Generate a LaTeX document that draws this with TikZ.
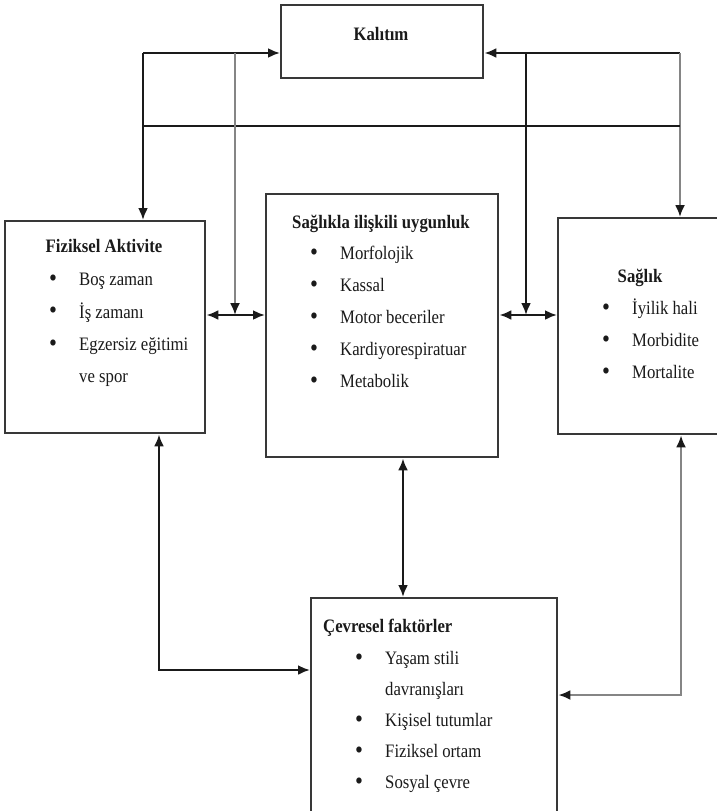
\documentclass[tikz,border=0pt]{standalone}
\usepackage{fontspec}
\setmainfont{Liberation Serif}[FakeStretch=0.88]
\usetikzlibrary{arrows.meta}
\definecolor{boxc}{HTML}{383838}
\definecolor{linec}{HTML}{1A1A1A}
\definecolor{grayc}{HTML}{858585}
\definecolor{textc}{HTML}{1A1A1A}
\newcommand{\itm}[1]{\makebox[30pt][l]{\raisebox{-0.6pt}{\scalebox{1.35}{\textbullet}}}#1}
\begin{document}
\begin{tikzpicture}[x=1pt,y=-1pt,
  box/.style={draw=boxc, line width=2.4pt, inner sep=0pt, anchor=north west, fill=white},
  ln/.style={line width=2.3pt, draw=linec},
  gl/.style={line width=2.1pt, draw=grayc},
  tipe/.style={-{Latex[length=12pt,width=10pt,color=linec]}},
  tipb/.style={{Latex[length=12pt,width=10pt,color=linec]}-{Latex[length=12pt,width=10pt,color=linec]}},
  txt/.style={font=\fontsize{19}{22}\selectfont, inner sep=0pt, anchor=base west, text=textc},
  ttl/.style={font=\fontsize{19}{22}\selectfont\bfseries, inner sep=0pt, anchor=base, text=textc}]
\useasboundingbox (0,0) rectangle (717,811);
\fill[white] (0,0) rectangle (717,811);

% boxes
\node[box, minimum width=202pt, minimum height=73pt] (kal) at (280,4) {};
\node[box, minimum width=200pt, minimum height=212pt] (fiz) at (4,220) {};
\node[box, minimum width=232pt, minimum height=263pt] (sag) at (265,193) {};
\node[box, minimum width=170pt, minimum height=216pt] (sgl) at (557,217) {};
\node[box, minimum width=246pt, minimum height=230pt] (cev) at (310,597) {};

% helper coordinates
\coordinate (tl) at (143,53);
\coordinate (tr) at (680,53);
\coordinate (hl) at (143,126);
\coordinate (hr) at (680,126);
\coordinate (ga) at (235,53);
\coordinate (ma) at (235,315);
\coordinate (gb) at (526,53);
\coordinate (mb) at (526,315);
\coordinate (cv) at (403,520);
\coordinate (lb) at (159,670);
\coordinate (rb) at (681,695);

% top connectors
\draw[ln, tipe] (tl) -- (kal.west |- tl);
\draw[ln, tipe] (tr) -- (kal.east |- tr);
\draw[ln, tipe] (tl) -- (tl |- fiz.north);
\draw[gl, tipe] (tr) -- (tr |- sgl.north);
\draw[ln] (hl) -- (hr);
\draw[gl, tipe] (ga) -- (ma);
\draw[ln, tipe] (gb) -- (mb);

% middle double arrows
\draw[ln, tipb] (fiz.east |- ma) -- (sag.west |- ma);
\draw[ln, tipb] (sag.east |- mb) -- (sgl.west |- mb);

% bottom connectors
\draw[ln, tipb] (sag.south -| cv) -- (cev.north -| cv);
\draw[ln, tipb] (fiz.south -| lb) -- (lb) -- (cev.west |- lb);
\draw[gl, tipb] (sgl.south -| rb) -- (rb) -- (cev.east |- rb);

% texts
\node[ttl] (kalt) at (381,40.5) {Kalıtım};

\node[ttl] (fizt) at (104,252.5) {Fiziksel Aktivite};
\node[txt] (fiz1) at (49,285.5) {\itm{Boş zaman}};
\node[txt] (fiz2) at (49,318) {\itm{İş zamanı}};
\node[txt] (fiz3) at (49,350.5) {\itm{Egzersiz eğitimi}};
\node[txt] (fiz4) at (79,382.5) {ve spor};

\node[ttl] (sagt) at (381,228.5) {Sağlıkla ilişkili uygunluk};
\node[txt] (sag1) at (310,259.5) {\itm{Morfolojik}};
\node[txt] (sag2) at (310,291.5) {\itm{Kassal}};
\node[txt] (sag3) at (310,323.5) {\itm{Motor beceriler}};
\node[txt] (sag4) at (310,355.5) {\itm{Kardiyorespiratuar}};
\node[txt] (sag5) at (310,387.5) {\itm{Metabolik}};

\node[ttl] (sglt) at (640,282.5) {Sağlık};
\node[txt] (sgl1) at (602,314.5) {\itm{İyilik hali}};
\node[txt] (sgl2) at (602,346.5) {\itm{Morbidite}};
\node[txt] (sgl3) at (602,378.5) {\itm{Mortalite}};

\node[ttl, anchor=base west] (cevt) at (323,632.5) {Çevresel faktörler};
\node[txt] (cev1) at (355,664.5) {\itm{Yaşam stili}};
\node[txt] (cev2) at (385,695.5) {davranışları};
\node[txt] (cev3) at (355,726.5) {\itm{Kişisel tutumlar}};
\node[txt] (cev4) at (355,757.5) {\itm{Fiziksel ortam}};
\node[txt] (cev5) at (355,788.5) {\itm{Sosyal çevre}};
\end{tikzpicture}
\end{document}
